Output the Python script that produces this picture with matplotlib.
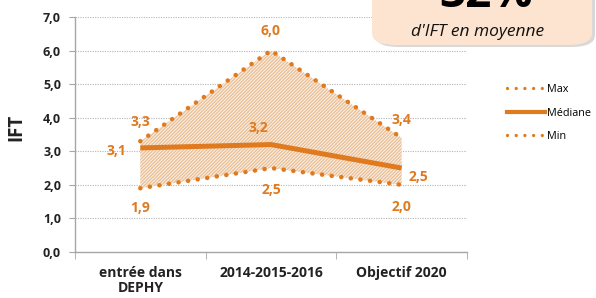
import matplotlib
matplotlib.use("Agg")
import matplotlib.pyplot as plt
from matplotlib.patches import FancyBboxPatch
from matplotlib.lines import Line2D

categories = ["entrée dans\nDEPHY", "2014-2015-2016", "Objectif 2020"]
ift_max = [3.3, 6.0, 3.4]
ift_median = [3.1, 3.2, 2.5]
ift_min = [1.9, 2.5, 2.0]
yticks = [0, 1, 2, 3, 4, 5, 6, 7]
box_big = "32%"
box_small = "d'IFT en moyenne"

ORANGE = "#E07A1F"
FONT = ["Open Sans", "DejaVu Sans"]
plt.rcParams['font.family'] = FONT
plt.rcParams['hatch.linewidth'] = 0.9

fig = plt.figure(figsize=(5.96, 2.98), dpi=100)
ax = fig.add_axes([0.1258, 0.1544, 0.6577, 0.7886])
x = list(range(len(categories)))

ax.fill_between(x, ift_min, ift_max, facecolor="#FAEEE1", edgecolor="#E9BF95",
                hatch="//////////", linewidth=0, zorder=1)
dot = (0, (0.01, 2.1))
ax.plot(x, ift_max, color=ORANGE, lw=3.3, linestyle=dot, dash_capstyle="round", zorder=3, label="Max")
ax.plot(x, ift_median, color=ORANGE, lw=3.6, solid_capstyle="butt", zorder=3, label="Médiane")
ax.plot(x, ift_min, color=ORANGE, lw=3.3, linestyle=dot, dash_capstyle="round", zorder=3, label="Min")

def fmt(v):
    return f"{v:.1f}".replace(".", ",")

lab_kw = dict(color=ORANGE, fontsize=10, fontweight="bold", ha="center", va="center",
              textcoords="offset points", zorder=5)
offs_max = [(0, 14), (0, 14), (0, 13)]
offs_med = [(-17, -2), (-9, 12), (12, -6.5)]
offs_min = [(0, -14), (0, -16), (0, -16)]
for i in x:
    ax.annotate(fmt(ift_max[i]), (i, ift_max[i]), xytext=offs_max[i], **lab_kw)
    ax.annotate(fmt(ift_median[i]), (i, ift_median[i]), xytext=offs_med[i], **lab_kw)
    ax.annotate(fmt(ift_min[i]), (i, ift_min[i]), xytext=offs_min[i], **lab_kw)

ax.set_xlim(-0.5, len(categories) - 0.5)
ax.set_ylim(0, 7)
ax.set_yticks(yticks)
ax.set_yticklabels([fmt(v) for v in yticks], fontsize=9, fontweight="bold", color="#222222")
ax.yaxis.grid(True, color="#B5B5B5", linestyle=(0, (1, 1.2)), linewidth=0.8)
ax.set_axisbelow(True)
ax.set_xticks(x)
ax.set_xticklabels(categories, fontsize=10, fontweight="bold", linespacing=1.1, color="#222222")
ax.tick_params(axis="x", length=0, pad=10)
ax.set_xticks([i + 0.5 for i in [-1] + x], minor=True)
ax.tick_params(axis="x", which="minor", length=5, color="#A6A6A6")
ax.tick_params(axis="y", length=4, color="#A6A6A6", pad=6)
for s in ["top", "right"]:
    ax.spines[s].set_visible(False)
for s in ["left", "bottom"]:
    ax.spines[s].set_color("#A6A6A6")
    ax.spines[s].set_linewidth(1.0)
ax.set_ylabel("IFT", fontsize=13.5, fontweight="bold", color="#222222")
ax.yaxis.set_label_coords(-0.125, 0.53)

handles = [
    Line2D([], [], color=ORANGE, lw=2.4, linestyle=(0, (0.01, 2.6)), dash_capstyle="round"),
    Line2D([], [], color=ORANGE, lw=3),
    Line2D([], [], color=ORANGE, lw=2.4, linestyle=(0, (0.01, 2.6)), dash_capstyle="round"),
]
fig.legend(handles, ["Max", "Médiane", "Min"], loc="center left",
           bbox_to_anchor=(0.835, 0.62), frameon=False, fontsize=7.8,
           handlelength=3.5, handletextpad=0.2, labelspacing=1.15)

# callout box
shadow = FancyBboxPatch((375 / 596, 1 - 47 / 298), 220 / 596, 0.3,
                        boxstyle="round,pad=0,rounding_size=0.04",
                        transform=fig.transFigure, facecolor="#A0A0A0", alpha=0.4,
                        edgecolor="none", zorder=9)
box = FancyBboxPatch((372 / 596, 1 - 45 / 298), 220 / 596, 0.3,
                     boxstyle="round,pad=0,rounding_size=0.04",
                     transform=fig.transFigure, facecolor="#FDE4D0",
                     edgecolor="none", zorder=10)
fig.add_artist(shadow)
fig.add_artist(box)
fig.text(486 / 596, 1 - 7 / 298, box_big, fontsize=33, fontweight="bold", color="black",
         ha="center", va="baseline", zorder=11)
fig.text(478 / 596, 1 - 32 / 298, box_small, fontsize=12.5, style="italic", color="#111111",
         ha="center", va="center", zorder=11)

fig.savefig("out.png", dpi=100)
